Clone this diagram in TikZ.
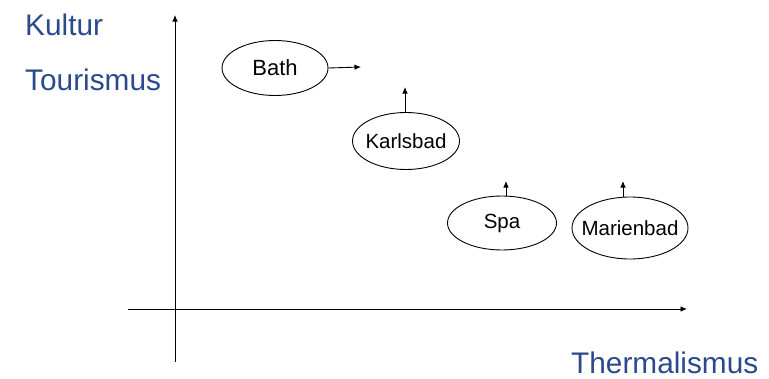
\documentclass[tikz,border=0pt]{standalone}
\usepackage{fontspec}
\setmainfont{Liberation Sans}
\usetikzlibrary{shapes.geometric,arrows.meta}
\definecolor{axisblue}{HTML}{2B4A8E}
\tikzset{
  place/.style={draw, ellipse, line width=0.9pt, inner sep=0pt, font=\fontsize{20.5}{24}\selectfont},
  axislabel/.style={anchor=base west, inner sep=0pt, text=axisblue, font=\fontsize{29.8}{34}\selectfont},
  arr/.style={line width=0.9pt, -{Latex[length=6.5pt,width=5.5pt]}}
}
\newcommand{\ctext}[1]{\makebox[0pt]{#1}}
\begin{document}
\begin{tikzpicture}[x=1pt,y=-1pt]
\useasboundingbox[fill=white] (0,0) rectangle (769,378);
% axes
\coordinate (ybot) at (175,362);
\coordinate (ytop) at (175,15);
\coordinate (xleft) at (128,309);
\coordinate (xright) at (687,309);
\draw[arr] (ybot) -- (ytop);
\draw[arr] (xleft) -- (xright);
% labels
\node[axislabel] (kultur) at (25,35) {Kultur};
\node[axislabel] (tourismus) at (25,90) {Tourismus};
\node[axislabel] (thermal) at (571,373) {Thermalismus};
% places
\node[place, minimum width=106pt, minimum height=55pt, font=\fontsize{22}{26}\selectfont] (bath) at (275,68) {\ctext{Bath}};
\node[place, minimum width=107pt, minimum height=57pt] (karlsbad) at (406,141) {\ctext{Karlsbad}};
\node[place, minimum width=109pt, minimum height=54pt] (spa) at (502,223) {\ctext{Spa}};
\node[place, minimum width=116pt, minimum height=62pt] (marienbad) at (630,228) {\ctext{Marienbad}};
% arrows
\coordinate (bathto) at (361,67);
\coordinate (karlsto) at (405,87);
\coordinate (spato) at (506,181);
\coordinate (marto) at (623,181);
\draw[arr] (bath.east) -- (bathto);
\draw[arr] (karlsbad.north -| karlsto) -- (karlsto);
\draw[arr] (spa.north -| spato) -- (spato);
\draw[arr] (marienbad.north -| marto) -- (marto);
\end{tikzpicture}
\end{document}
